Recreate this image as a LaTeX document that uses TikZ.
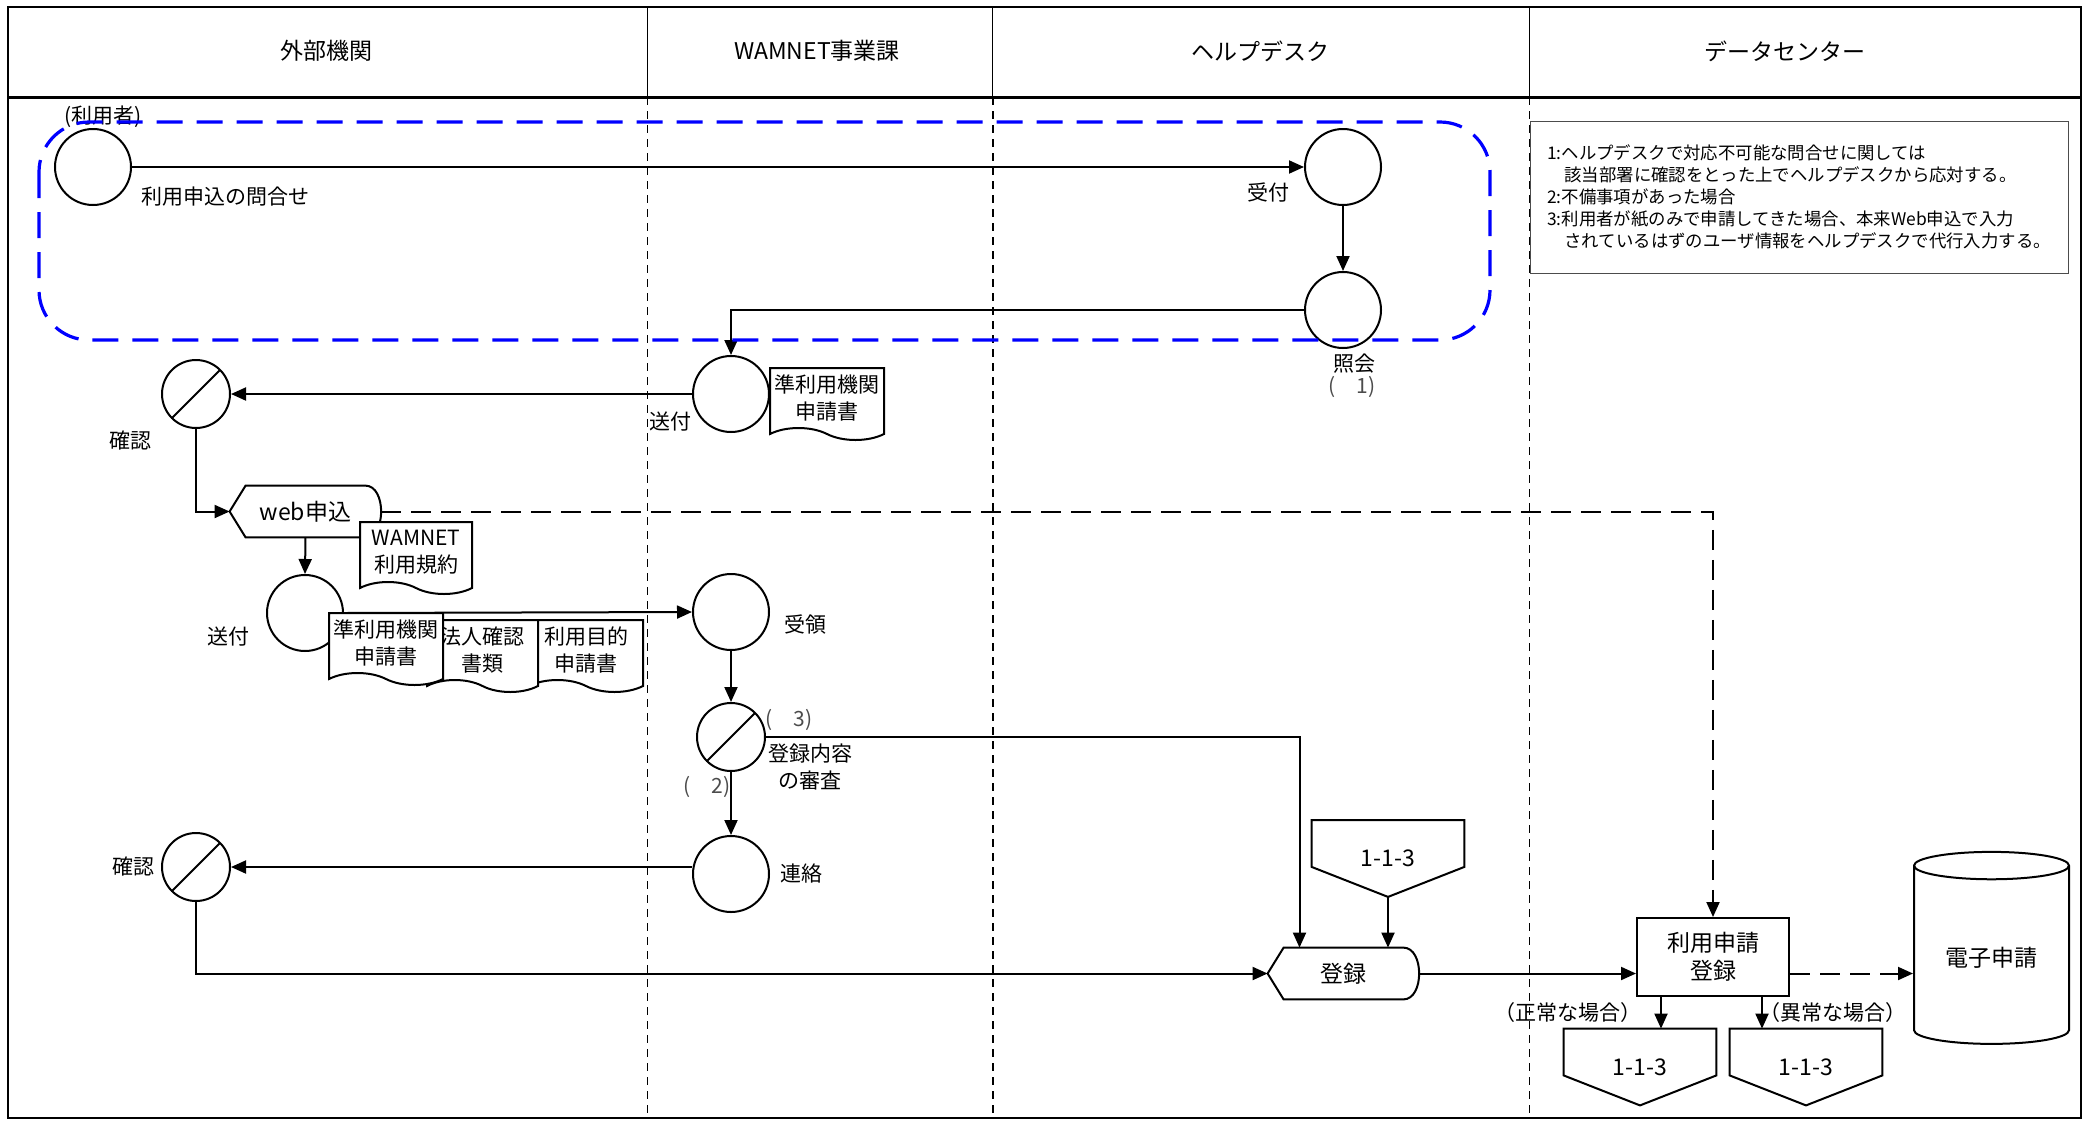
\documentclass[tikz,border=0pt]{standalone}
\usepackage{fontspec}
\setmainfont{Noto Sans CJK JP}
\usetikzlibrary{arrows.meta, positioning, calc, shapes.symbols, shapes.geometric}

\begin{document}
\begin{tikzpicture}[x=0.5pt, y=-0.5pt,
    font=\fontsize{10.5}{13.5}\selectfont,
    proc/.style={circle, draw, line width=1pt, minimum size=38pt, inner sep=0pt},
    chk/.style={proc, minimum size=34pt,
        path picture={\draw[line width=1pt] (path picture bounding box.south west)
            -- (path picture bounding box.north east);}},
    doc/.style={tape, draw, fill=white, line width=1pt, align=center,
        tape bend top=none, tape bend bottom=out and in, tape bend height=6pt,
        minimum width=57pt, minimum height=36pt, inner sep=1pt},
    disp/.style={minimum width=75.5pt, minimum height=25.5pt, inner sep=0pt,
        font=\fontsize{11.5}{14}\selectfont},
    offpage/.style={minimum width=76pt, minimum height=38pt, inner sep=0pt,
        font=\fontsize{11.5}{14}\selectfont},
    task/.style={draw, line width=1pt, minimum width=76pt, minimum height=39pt,
        align=center, font=\fontsize{11.5}{14}\selectfont},
    store/.style={cylinder, shape border rotate=90, draw, line width=1pt, aspect=0.26,
        minimum width=77.5pt, minimum height=96pt, font=\fontsize{11.5}{14}\selectfont},
    flow/.style={-{Triangle[length=7.5pt, width=6.5pt]}, line width=1pt},
    dflow/.style={flow, dash pattern=on 10pt off 5pt},
    lane/.style={line width=0.9pt, dash pattern=on 4pt off 3pt},
    grp/.style={draw=blue, line width=1.6pt, dash pattern=on 13pt off 7pt,
        rounded corners=25pt},
    lbl/.style={inner sep=0pt},
    num/.style={inner sep=0pt, text=black!70},
    head/.style={inner sep=0pt, font=\fontsize{11.5}{13}\selectfont},
]
\useasboundingbox (0,0) rectangle (2089,1120);

% ============ 枠とレーン ============
\draw[line width=1.25pt] (8,7) rectangle (2081,1118);
\draw[line width=1.5pt] (8,97) -- (2081,97);
\foreach \x in {647.5, 992.6, 1529.5} {
    \draw[line width=0.6pt] (\x,7) -- (\x,97);
    \draw[lane] (\x,97) -- (\x,1118);
}
\node[head] (h1) at (326,51)  {外部機関};
\node[head] (h2) at (817,51)  {WAMNET事業課};
\node[head] (h3) at (1260,51) {ヘルプデスク};
\node[head] (h4) at (1785,51) {データセンター};

% ============ 問合せ ============
\node[proc] (u1)  at (93,167)   {};
\node[lbl] at (103,117) {(利用者)};
\node[lbl, anchor=west] at (141,197) {利用申込の問合せ};
\node[proc] (hd1) at (1343,167) {};
\node[lbl] at (1268,192) {受付};
\node[proc] (hd2) at (1343,310) {};
\node[lbl] at (1354,364) {照会};
\node[num] at (1352,387) {(　1)};
\draw[flow] (u1) -- (hd1);
\draw[flow] (hd1) -- (hd2);

% ============ 送付と確認 ============
\node[proc] (wn1) at (731,394) {};
\node[lbl, left=0pt of wn1, yshift=-14pt] {送付};
\node[doc] (doc1) at (827,398) {準利用機関\\申請書};
\node[chk] (ex1) at (196,394) {};
\node[lbl] at (130,441) {確認};
\draw[flow] (hd2.west) -| (wn1.north);
\draw[flow] (wn1.west) -- (ex1.east);

% ============ web申込 ============
\node[disp] (web) at (305.5,511.5) {web申込};
\draw[line width=1pt] (web.west) -- ($(web.north west)+(16,0)$) -- ($(web.north east)+(-16,0)$)
    .. controls +(21,0) and +(21,0) .. ($(web.south east)+(-16,0)$)
    -- ($(web.south west)+(16,0)$) -- cycle;
\node[doc, minimum width=56pt] (doc2) at (416,552) {WAMNET\\利用規約};
\draw[flow] (ex1.south) |- (web.west);

\node[proc] (ex2) at (305,613) {};
\node[lbl] at (228,637) {送付};
\draw[flow] (web.south) -- (ex2.north);

\node[proc] (wn2) at (731,612) {};
\node[lbl, right=7pt of wn2, yshift=-6pt] {受領};
\draw[flow] (ex2.east) -- (wn2.west);
\node[doc] (doc5) at (586,650) {利用目的\\申請書};
\node[doc, minimum width=55.5pt] (doc4) at (482.5,650) {法人確認\\書類};
\node[doc] (doc3) at (386,643) {準利用機関\\申請書};

% ============ 審査・連絡 ============
\node[chk] (wn3) at (731,737) {};
\node[lbl, align=center] at (810,767) {登録内容\\の審査};
\node[num] at (789,720) {(　3)};
\node[num] at (707,787) {(　2)};
\node[proc] (wn4) at (731,874) {};
\node[lbl, right=5pt of wn4] {連絡};
\node[chk] (ex3) at (196,867) {};
\node[lbl] at (133,866) {確認};
\draw[flow] (wn2) -- (wn3);
\draw[flow] (wn3) -- (wn4);
\draw[flow] (ex3.east -| wn4.west) -- (ex3.east);

% ============ 登録 ============
\node[disp] (reg) at (1343.5,973.5) {登録};
\draw[line width=1pt] (reg.west) -- ($(reg.north west)+(16,0)$) -- ($(reg.north east)+(-16,0)$)
    .. controls +(21,0) and +(21,0) .. ($(reg.south east)+(-16,0)$)
    -- ($(reg.south west)+(16,0)$) -- cycle;
\node[offpage] (opc1) at (1388,858.5) {1-1-3};
\draw[flow] (ex3.south) |- (reg.west);
\draw[flow] (wn3.east) -| ($(reg.north)+(-44,0)$);
\draw[flow] (opc1.south) -- (opc1.south |- reg.north);

% ============ データセンター ============
\node[task] (dc1) at (1713,957) {利用申請\\登録};
\node[store] (db) at (1991.5,958) {電子申請};
\node[offpage] (opc2) at (1640,1067) {1-1-3};
\node[offpage] (opc3) at (1806,1067) {1-1-3};
\foreach \n in {opc1,opc2,opc3}
    \draw[line width=1pt] (\n.north west) -- (\n.north east) -- ($(\n.south east)+(0,-30)$)
        -- (\n.south) -- ($(\n.south west)+(0,-30)$) -- cycle;
\node[lbl] at (1568,1013) {（正常な場合）};
\node[lbl] at (1833,1013) {（異常な場合）};

\draw[dflow] (web.east) -| (dc1.north);
\draw[flow] (reg.east) -- (reg.east -| dc1.west);
\draw[dflow] (reg.east -| dc1.east) -- (reg.east -| db.west);
\coordinate (d1) at ($(dc1.south)+(-52,0)$);
\coordinate (d2) at ($(dc1.south)+(49,0)$);
\draw[flow] (d1) -- (d1 |- opc2.north);
\draw[flow] (d2) -- (d2 |- opc3.north);

% 注記
\node[draw=black!70, line width=0.5pt, minimum width=269pt, minimum height=76pt,
      align=left, font=\fontsize{8.7}{11}\selectfont] (note) at (1799,197)
    {1:ヘルプデスクで対応不可能な問合せに関しては\\
     　該当部署に確認をとった上でヘルプデスクから応対する。\\
     2:不備事項があった場合\\
     3:利用者が紙のみで申請してきた場合、本来Web申込で入力\\
     　されているはずのユーザ情報をヘルプデスクで代行入力する。};

% 問合せの範囲
\draw[grp] (39,122) rectangle (1490,340);

\end{tikzpicture}
\end{document}
